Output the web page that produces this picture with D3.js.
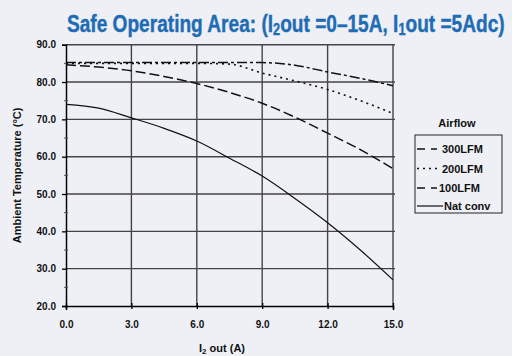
<!DOCTYPE html>
<html><head><meta charset="utf-8">
<script src="https://cdn.jsdelivr.net/npm/d3@7"></script>
<style>
html,body{margin:0;padding:0;background:#eef0f6;}
svg{display:block;}
text{font-family:"Liberation Sans",Arial,Helvetica,sans-serif;}
</style></head>
<body>
<svg id="chart" width="512" height="356"></svg>
<script>
const current = [0, 1.5, 3, 4.5, 6, 7.5, 9, 10.5, 12, 13.5, 15];
const lfm300 = [85.2, 85.2, 85.2, 85.2, 85.2, 85.2, 85.2, 84.5, 82.7, 81.0, 79.0];
const lfm200 = [85.0, 85.0, 85.0, 85.0, 85.0, 84.8, 82.4, 80.3, 78.0, 75.0, 71.6];
const lfm100 = [84.6, 84.0, 83.0, 81.5, 79.6, 77.2, 74.3, 70.6, 66.3, 61.9, 56.8];
const natConv = [74.0, 73.0, 70.4, 67.6, 64.2, 59.6, 54.8, 48.8, 42.3, 35.0, 27.0];
const seriesNames = ["300LFM", "200LFM", "100LFM", "Nat conv"];
const xTicks = [0, 3, 6, 9, 12, 15];
const yTicks = [20, 30, 40, 50, 60, 70, 80, 90];

const svg = d3.select("#chart");
const x = d3.scaleLinear().domain([0, 15]).range([66, 393]);
const y = d3.scaleLinear().domain([20, 90]).range([306, 44.7]);

// Title (condensed via horizontal scale)
const tg = svg.append("g");
const title = tg.append("text")
  .attr("x", 0).attr("y", 0)
  .attr("fill", "#1e6cb3").attr("font-weight", "bold")
  .attr("stroke", "#1e6cb3").attr("stroke-width", 0.4)
  .style("font-size", "24px");
title.append("tspan").text("Safe Operating Area: (I");
title.append("tspan").text("2").attr("font-size", "16px").attr("dy", 3);
title.append("tspan").text("out =0\u201315A, I").attr("dy", -3);
title.append("tspan").text("1").attr("font-size", "16px").attr("dy", 3);
title.append("tspan").text("out =5Adc)").attr("dy", -3);
const tw = title.node().getBBox().width;
const sx = 438 / tw;
tg.attr("transform", `translate(67,31.5) scale(${sx},1)`);

// Grid
const grid = svg.append("g");
grid.selectAll("line.h").data(yTicks.filter(d => d > 20)).enter().append("line")
  .attr("x1", x(0)).attr("x2", x(15) + 2).attr("y1", d => y(d)).attr("y2", d => y(d))
  .attr("stroke", "#444").attr("stroke-width", 1.4);
grid.selectAll("line.v").data(xTicks.filter(d => d > 0)).enter().append("line")
  .attr("x1", d => x(d)).attr("x2", d => x(d)).attr("y1", y(90)).attr("y2", y(20))
  .attr("stroke", "#444").attr("stroke-width", 1.4);

// Axes
const yAxis = d3.axisLeft(y).tickValues(yTicks).tickSize(4).tickFormat(d3.format(".1f"));
const gy = svg.append("g").attr("transform", `translate(${x(0)},0)`).call(yAxis);
gy.select(".domain").attr("stroke", "#000").attr("stroke-width", 1.5);
gy.selectAll("text").attr("font-size", "10px").attr("font-weight", "bold").attr("fill", "#111").attr("dx", -3);
gy.selectAll(".tick line").attr("stroke", "#000").attr("stroke-width", 1.3);
// minor ticks
svg.append("g").selectAll("line").data([25, 35, 45, 55, 65, 75, 85]).enter().append("line")
  .attr("x1", x(0) - 2).attr("x2", x(0) + 2).attr("y1", d => y(d)).attr("y2", d => y(d))
  .attr("stroke", "#555").attr("stroke-width", 1);

const gx = svg.append("g").attr("transform", `translate(0,${y(20)})`).call(d3.axisBottom(x).tickValues(xTicks).tickSize(4).tickFormat(d3.format(".1f")));
gx.select(".domain").attr("stroke", "#000").attr("stroke-width", 1.5);
gx.selectAll(".tick line").attr("stroke", "#000").attr("stroke-width", 1.3).attr("y1", -3).attr("y2", 3);
gx.selectAll("text").attr("font-size", "10px").attr("font-weight", "bold").attr("fill", "#111").attr("dy", "1.5em");

// Axis titles
svg.append("text").attr("transform", `translate(21,${(y(20)+y(90))/2}) rotate(-90)`)
  .attr("text-anchor", "middle").attr("font-size", "11px").attr("font-weight", "bold").attr("fill", "#111")
  .text("Ambient Temperature (\u00B0C)");
const xt = svg.append("text").attr("x", 222).attr("y", 352).attr("text-anchor", "middle")
  .attr("font-size", "11px").attr("font-weight", "bold").attr("fill", "#111");
xt.append("tspan").text("I");
xt.append("tspan").text("2").attr("font-size", "8px").attr("dy", 2);
xt.append("tspan").text(" out  (A)").attr("dy", -2);

// Lines
const styles = [
  {dash: "10,3,3,3", w: 1.5},
  {dash: "2,4", w: 1.6},
  {dash: "10,4", w: 1.5},
  {dash: null, w: 1.2}
];
const data = [lfm300, lfm200, lfm100, natConv];
const line = d3.line().x((d, i) => x(current[i])).y(d => y(d)).curve(d3.curveMonotoneX);
data.forEach((s, k) => {
  svg.append("path").datum(s).attr("d", line).attr("fill", "none")
    .attr("stroke", "#111").attr("stroke-width", styles[k].w)
    .attr("stroke-dasharray", styles[k].dash);
});

// Legend
svg.append("text").attr("x", 457).attr("y", 127).attr("text-anchor", "middle")
  .attr("font-size", "11px").attr("font-weight", "bold").attr("fill", "#111").text("Airflow");
svg.append("rect").attr("x", 415).attr("y", 135).attr("width", 87).attr("height", 78)
  .attr("fill", "none").attr("stroke", "#222").attr("stroke-width", 1);
const ly = [149, 168.5, 188, 206];
const lx = [442, 442, 439, 444];
seriesNames.forEach((n, k) => {
  svg.append("line").attr("x1", 417).attr("x2", k === 3 ? 443 : 437)
    .attr("y1", ly[k]).attr("y2", ly[k]).attr("stroke", "#111").attr("stroke-width", k === 3 ? 1.2 : 1.6)
    .attr("stroke-dasharray", k === 0 ? "8,6,3,0" : k === 1 ? "2,4" : k === 2 ? "8,6" : null);
  svg.append("text").attr("x", lx[k]).attr("y", ly[k] + 4).attr("font-size", "11px")
    .attr("font-weight", "bold").attr("fill", "#111").text(n);
});
</script>
</body></html>
